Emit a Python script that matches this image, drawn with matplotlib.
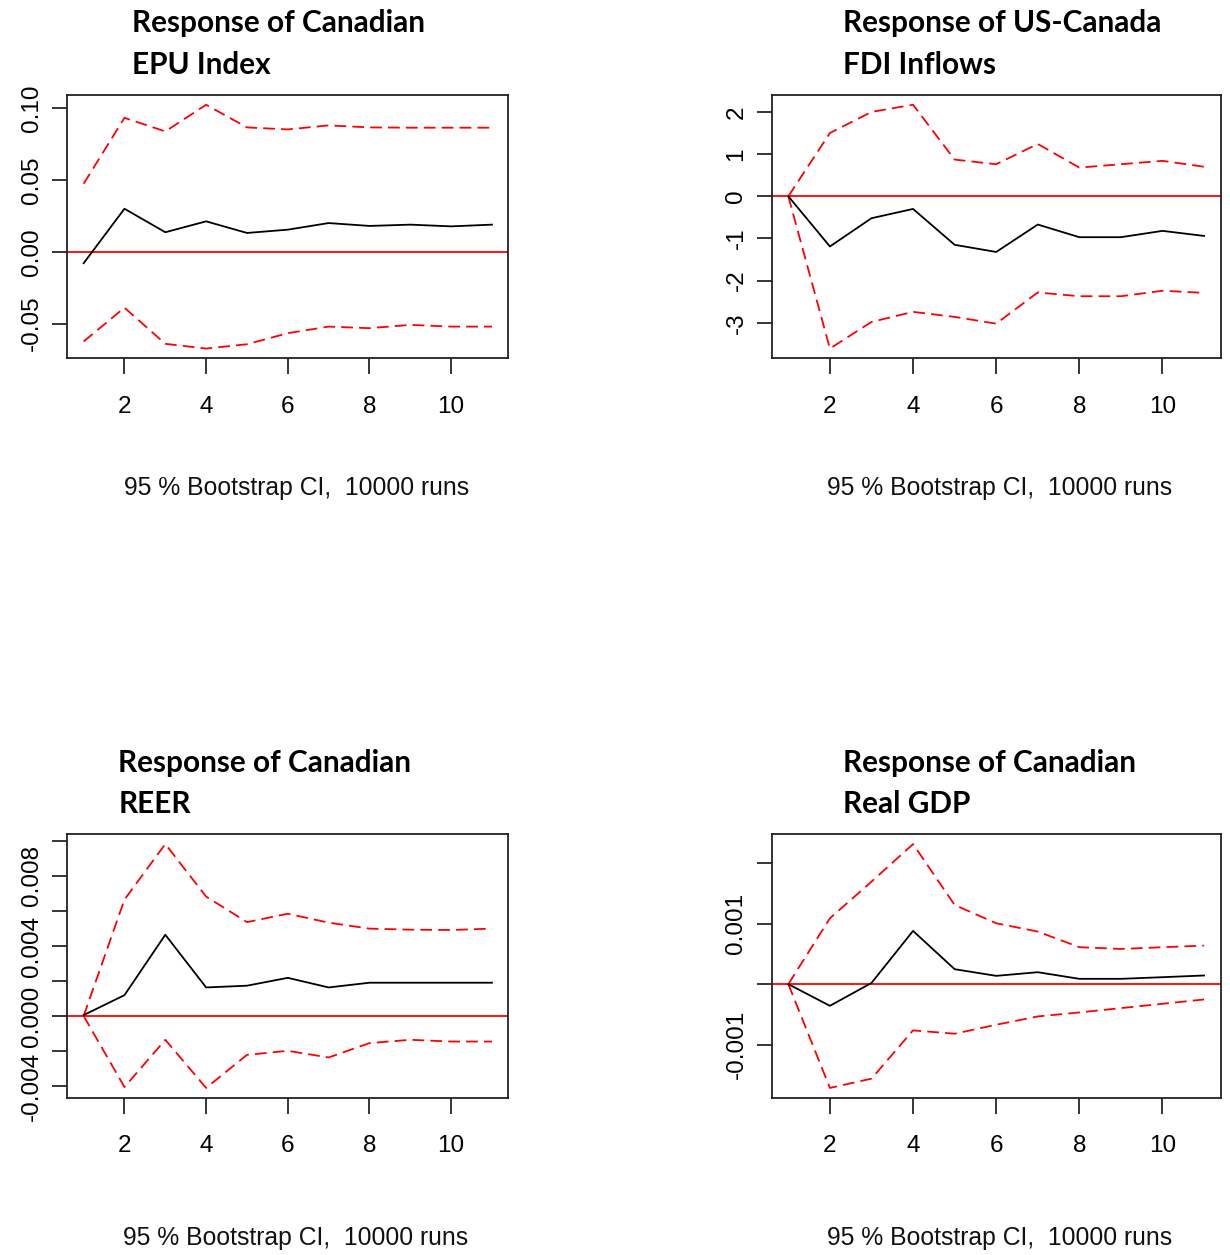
import matplotlib
matplotlib.use("Agg")
import matplotlib.pyplot as plt

W, H = 1230, 1255
DPI = 100

horizon = list(range(1, 12))

# Panel 1: Canadian EPU Index
epu_irf = [-0.0079, 0.0301, 0.0137, 0.0213, 0.0132, 0.0155, 0.0201, 0.0181, 0.0190, 0.0178, 0.0190]
epu_upper = [0.0475, 0.0935, 0.0840, 0.1026, 0.0868, 0.0854, 0.0882, 0.0868, 0.0866, 0.0866, 0.0866]
epu_lower = [-0.0625, -0.0389, -0.0641, -0.0674, -0.0644, -0.0567, -0.0521, -0.0532, -0.0509, -0.0521, -0.0521]

# Panel 2: US-Canada FDI Inflows
fdi_irf = [0.0, -1.19, -0.52, -0.30, -1.15, -1.32, -0.67, -0.97, -0.97, -0.82, -0.94]
fdi_upper = [0.0, 1.50, 2.00, 2.17, 0.87, 0.76, 1.24, 0.68, 0.76, 0.84, 0.70]
fdi_lower = [0.0, -3.61, -2.98, -2.74, -2.86, -3.02, -2.28, -2.37, -2.37, -2.24, -2.29]

# Panel 3: Canadian REER
reer_irf = [0.00005, 0.00119, 0.00464, 0.00163, 0.00173, 0.00218, 0.00163, 0.00190, 0.00190, 0.00190, 0.00190]
reer_upper = [0.0, 0.00665, 0.00982, 0.00682, 0.00536, 0.00584, 0.00533, 0.00499, 0.00493, 0.00491, 0.00499]
reer_lower = [0.0, -0.00406, -0.00136, -0.00411, -0.00222, -0.00199, -0.00237, -0.00155, -0.00136, -0.00146, -0.00146]

# Panel 4: Canadian Real GDP
gdp_irf = [0.0, -0.000357, 0.00002, 0.000878, 0.000247, 0.000137, 0.000197, 0.000088, 0.000088, 0.000115, 0.000143]
gdp_upper = [0.0, 0.001086, 0.00169, 0.00231, 0.001306, 0.001004, 0.000867, 0.000609, 0.000581, 0.000609, 0.000636]
gdp_lower = [0.0, -0.001711, -0.001558, -0.000762, -0.000817, -0.000669, -0.000532, -0.000466, -0.000395, -0.000324, -0.000252]

titles = [
    ("Response of Canadian", "EPU Index"),
    ("Response of US-Canada", "FDI Inflows"),
    ("Response of Canadian", "REER"),
    ("Response of Canadian", "Real GDP"),
]

x_ticks = [2, 4, 6, 8, 10]

y_ticks = [
    [-0.05, 0.00, 0.05, 0.10],
    [-3, -2, -1, 0, 1, 2],
    [-0.004, -0.002, 0.000, 0.002, 0.004, 0.006, 0.008, 0.010],
    [-0.001, 0.000, 0.001, 0.002],
]
y_labels = [
    ["-0.05", "0.00", "0.05", "0.10"],
    ["-3", "-2", "-1", "0", "1", "2"],
    ["-0.004", "", "0.000", "", "0.004", "", "0.008", ""],
    ["-0.001", "", "0.001", ""],
]

xlabel_text = "95 % Bootstrap CI,  10000 runs"

series = [
    (epu_irf, epu_upper, epu_lower),
    (fdi_irf, fdi_upper, fdi_lower),
    (reer_irf, reer_upper, reer_lower),
    (gdp_irf, gdp_upper, gdp_lower),
]

# layout in pixels: (left, top, right, bottom)
boxes = [
    (67.3, 95.0, 508.3, 358.3),
    (771.7, 95.0, 1220.7, 358.3),
    (67.3, 834.3, 508.3, 1097.7),
    (771.7, 834.3, 1220.7, 1097.7),
]
title_pos = [  # x of left edge, baseline line 1, baseline line 2
    (131.5, 32.3, 74.0),
    (843.3, 32.3, 73.5),
    (118.3, 771.7, 813.3),
    (843.3, 771.7, 813.3),
]
xlabel_pos = [(296.5, 488.0), (999.5, 488.0), (295.5, 1237.5), (999.5, 1237.5)]

plt.rcParams["font.family"] = ["Liberation Sans", "DejaVu Sans"]

fig = plt.figure(figsize=(W / DPI, H / DPI), dpi=DPI)

dash = (0, (6.5, 3.4))

for i in range(4):
    l, t, r, b = boxes[i]
    ax = fig.add_axes([l / W, 1 - b / H, (r - l) / W, (b - t) / H])
    irf, up, lo = series[i]
    ax.axhline(0, color="red", lw=1.3, zorder=1)
    ax.plot(horizon, up, color="red", lw=1.3, ls=dash, zorder=2)
    ax.plot(horizon, lo, color="red", lw=1.3, ls=dash, zorder=2)
    ax.plot(horizon, irf, color="black", lw=1.3, zorder=3)

    allv = irf + up + lo
    vmin, vmax = min(allv), max(allv)
    pad = 0.04 * (vmax - vmin)
    ax.set_ylim(vmin - pad, vmax + pad)
    ax.set_xlim(0.6, 11.4)

    ax.set_xticks(x_ticks)
    ax.set_xticklabels([str(v) for v in x_ticks], fontsize=17.5)
    ax.set_yticks(y_ticks[i])
    ax.set_yticklabels(y_labels[i], fontsize=17.5, rotation=90, va="center")
    ax.tick_params(axis="x", length=11.5, width=1.1, pad=15.5, direction="out")
    ax.tick_params(axis="y", length=10.5, width=1.1, pad=7.0, direction="out")
    for s in ax.spines.values():
        s.set_linewidth(1.3)
        s.set_color("#222222")

    cx, cy = xlabel_pos[i]
    fig.text(cx / W, 1 - cy / H, xlabel_text, fontsize=17.8,
             ha="center", va="center", color="#111111")

    tx, b1, b2 = title_pos[i]
    fig.text(tx / W, 1 - b1 / H, titles[i][0], fontsize=21.4, fontweight="bold",
             family=["Lato", "DejaVu Sans"], ha="left", va="baseline")
    fig.text(tx / W, 1 - b2 / H, titles[i][1], fontsize=21.4, fontweight="bold",
             family=["Lato", "DejaVu Sans"], ha="left", va="baseline")

fig.savefig("out.png", dpi=DPI)
